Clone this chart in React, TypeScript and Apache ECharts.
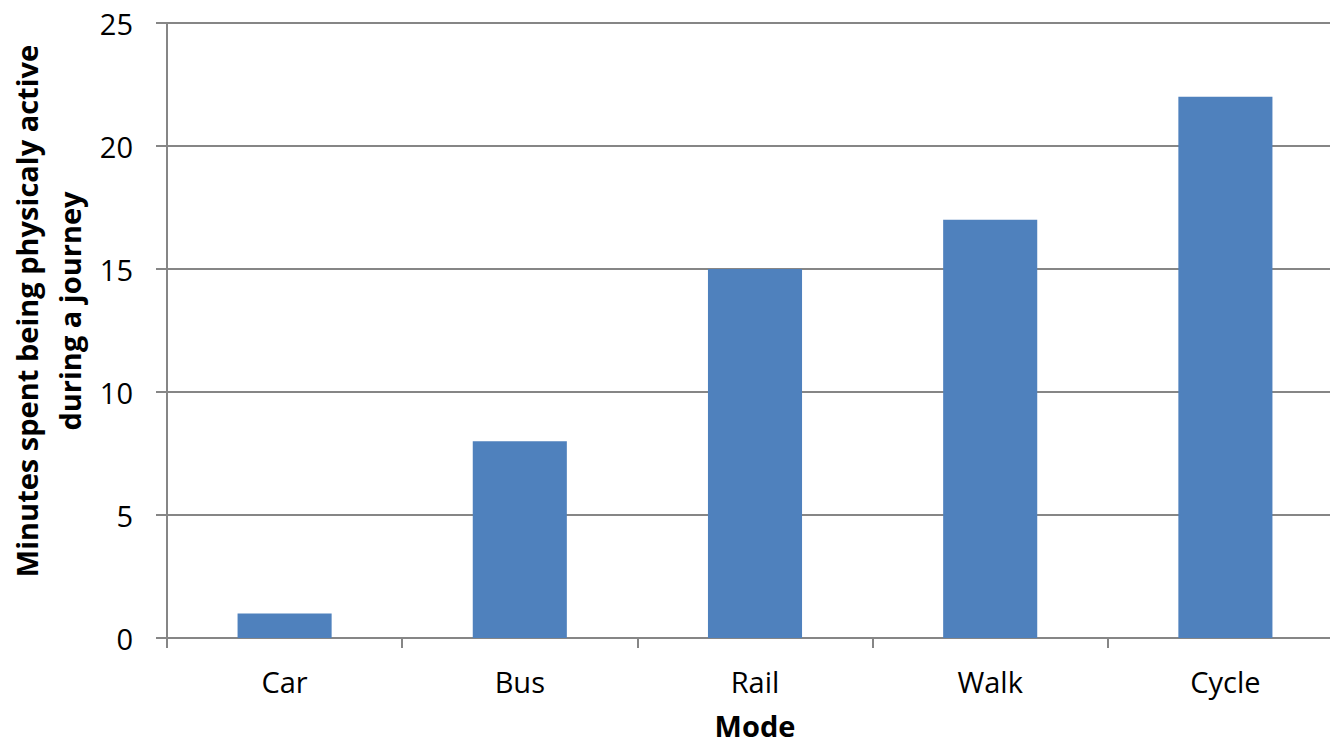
import React, { useEffect, useRef } from "react";
import * as echarts from "echarts";

const categories = ["Car", "Bus", "Rail", "Walk", "Cycle"];
const minutesActive = [1, 8, 15, 17, 22];
const yTitle = "Minutes spent being physicaly active\nduring a journey";
const xTitle = "Mode";

export default function App() {
  const ref = useRef<HTMLDivElement>(null);
  useEffect(() => {
    if (!ref.current) return;
    const chart = echarts.init(ref.current, undefined, { renderer: "svg" });
    const font = "'Open Sans', sans-serif";
    chart.setOption({
      animation: false,
      backgroundColor: "#ffffff",
      grid: { left: 167, right: 0, top: 23, bottom: 107, containLabel: false, outerBoundsMode: "none" },
      xAxis: {
        type: "category",
        data: categories,
        boundaryGap: true,
        name: xTitle,
        nameLocation: "middle",
        nameGap: 74,
        nameTextStyle: { fontFamily: font, fontWeight: "bold", fontSize: 29, lineHeight: 26, color: "#000" },
        axisLine: { lineStyle: { color: "#868686", width: 2 } },
        axisTick: { show: true, length: 10, alignWithLabel: false, lineStyle: { color: "#868686", width: 2 } },
        axisLabel: { margin: 29, fontFamily: font, fontSize: 29, color: "#000" },
        splitLine: { show: false },
      },
      yAxis: {
        type: "value",
        min: 0,
        max: 25,
        interval: 5,
        axisLine: { show: true, lineStyle: { color: "#868686", width: 2 } },
        axisTick: { show: true, length: 11, lineStyle: { color: "#868686", width: 2 } },
        axisLabel: { margin: 34, fontFamily: font, fontSize: 29, color: "#000" },
        splitLine: { show: true, lineStyle: { color: "#868686", width: 2 } },
      },
      series: [
        {
          type: "bar",
          data: minutesActive,
          barWidth: "40%",
          itemStyle: { color: "#4F81BD" },
        },
      ],
      graphic: [
        {
          type: "text",
          x: 48,
          y: 311,
          rotation: Math.PI / 2,
          style: {
            text: yTitle,
            align: "center",
            verticalAlign: "middle",
            fontFamily: font,
            fontWeight: "bold",
            fontSize: 29,
            lineHeight: 43,
            fill: "#000",
          },
        },
      ],
    });
    return () => chart.dispose();
  }, []);
  return (
    <div style={{ width: 1330, height: 745, position: "absolute", left: 0, top: 0, overflow: "hidden", background: "#fff" }}>
      <div ref={ref} style={{ width: 1343, height: 745 }} />
    </div>
  );
}
